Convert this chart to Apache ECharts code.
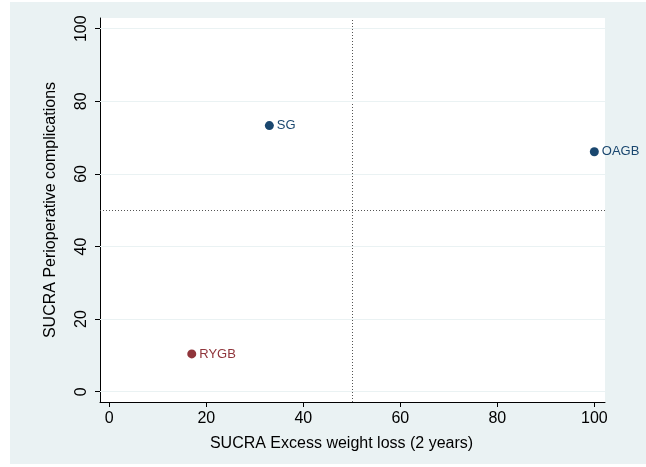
<!DOCTYPE html>
<html>
<head>
<meta charset="utf-8">
<script src="https://cdn.jsdelivr.net/npm/echarts@6/dist/echarts.min.js"></script>
<style>
  html, body { margin: 0; padding: 0; background: #ffffff; }
  #chart { width: 646px; height: 467px; }
</style>
</head>
<body>
<div id="chart"></div>
<script>
// Procedures and their SUCRA rankings
const procedures = ['SG', 'OAGB', 'RYGB'];
const sucraWeightLoss = [33, 100, 17];      // x: excess weight loss (2 years)
const sucraComplications = [73.3, 66.1, 10.4]; // y: perioperative complications
const pointColors = ['#1a476f', '#1a476f', '#90353b'];
const tickValues = [0, 20, 40, 60, 80, 100];
const cutoff = 50;

const FONT = '"Liberation Sans", Arial, Helvetica, sans-serif';

const chart = echarts.init(document.getElementById('chart'), null, { renderer: 'canvas' });

const points = procedures.map((name, i) => ({
  name: name,
  value: [sucraWeightLoss[i], sucraComplications[i]],
  itemStyle: { color: pointColors[i], opacity: 1 },
  label: { color: pointColors[i] }
}));

chart.setOption({
  backgroundColor: '#ffffff',
  animation: false,
  graphic: [{
    type: 'rect',
    z: -10,
    shape: { x: 10, y: 2, width: 640, height: 462 },
    style: { fill: '#eaf2f3' }
  }, {
    type: 'rect',
    z: -9,
    shape: { x: 100, y: 18, width: 505, height: 384 },
    style: { fill: '#ffffff' }
  }],
  grid: { left: 100, top: 18, width: 505, height: 384, containLabel: false },
  xAxis: {
    type: 'value',
    min: -1.92,
    max: 102.2,
    name: 'SUCRA Excess weight loss (2 years)',
    nameLocation: 'middle',
    nameGap: 34,
    nameTextStyle: { fontFamily: FONT, fontSize: 16, color: '#000', padding: [0, 22, 0, 0] },
    axisLine: { show: true, onZero: false, lineStyle: { color: '#000', width: 1 } },
    axisTick: { show: true, length: 5, lineStyle: { color: '#000' }, customValues: tickValues },
    axisLabel: { fontFamily: FONT, fontSize: 16, color: '#000', margin: 9, customValues: tickValues },
    splitLine: { show: false }
  },
  yAxis: {
    type: 'value',
    min: -2.84,
    max: 102.95,
    name: 'SUCRA Perioperative complications',
    nameLocation: 'middle',
    nameGap: 41,
    nameRotate: 90,
    nameTextStyle: { fontFamily: FONT, fontSize: 16, color: '#000' },
    axisLine: { show: true, onZero: false, lineStyle: { color: '#000', width: 1 } },
    axisTick: { show: true, length: 5, lineStyle: { color: '#000' }, customValues: tickValues },
    axisLabel: { fontFamily: FONT, fontSize: 16, color: '#000', margin: 10, rotate: 90, customValues: tickValues },
    splitLine: { show: false }
  },
  series: [{
    type: 'scatter',
    symbol: 'circle',
    symbolSize: 9,
    data: points,
    z: 5,
    label: {
      show: true,
      position: 'right',
      distance: 3,
      formatter: '{b}',
      fontFamily: FONT,
      fontSize: 13
    },
    markLine: {
      silent: true,
      symbol: 'none',
      label: { show: false },
      data: [
        { xAxis: cutoff, lineStyle: { type: [1, 2], color: '#555', width: 1 } },
        { yAxis: cutoff, lineStyle: { type: [1, 2], color: '#555', width: 1 } }
      ]
    }
  }, {
    // light horizontal gridlines at the y tick values
    type: 'line',
    data: [],
    markLine: {
      silent: true,
      symbol: 'none',
      label: { show: false },
      lineStyle: { type: 'solid', color: '#eaf2f3', width: 1 },
      data: tickValues.map(v => ({ yAxis: v }))
    },
    z: 0
  }]
});
</script>
</body>
</html>
